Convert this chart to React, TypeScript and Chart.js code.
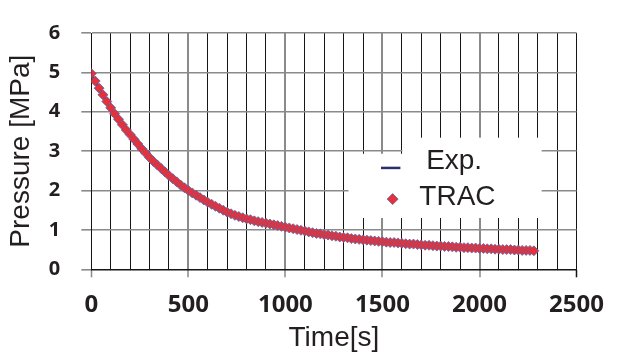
import { useEffect, useRef } from "react";
import { Chart, registerables } from "chart.js";

Chart.register(...registerables);

// ---- data ----
const timeTRAC = [
  0, 20, 40, 60, 80,
  100, 120, 140, 160, 180,
  200, 220, 240, 260, 280,
  300, 320, 340, 360, 380,
  400, 420, 440, 460, 480,
  500, 520, 540, 560, 580,
  600, 620, 640, 660, 680,
  700, 720, 740, 760, 780,
  800, 820, 840, 860, 880,
  900, 920, 940, 960, 980,
  1000, 1020, 1040, 1060, 1080,
  1100, 1120, 1140, 1160, 1180,
  1200, 1220, 1240, 1260, 1280,
  1300, 1320, 1340, 1360, 1380,
  1400, 1420, 1440, 1460, 1480,
  1500, 1520, 1540, 1560, 1580,
  1600, 1620, 1640, 1660, 1680,
  1700, 1720, 1740, 1760, 1780,
  1800, 1820, 1840, 1860, 1880,
  1900, 1920, 1940, 1960, 1980,
  2000, 2020, 2040, 2060, 2080,
  2100, 2120, 2140, 2160, 2180,
  2200, 2220, 2240, 2260, 2280,
];

const pressureTRAC = [
  4.97, 4.78, 4.6, 4.43, 4.26,
  4.1, 3.95, 3.81, 3.67, 3.54,
  3.42, 3.3, 3.18, 3.06, 2.95,
  2.84, 2.74, 2.65, 2.56, 2.47,
  2.38, 2.3, 2.22, 2.14, 2.07,
  2.0, 1.94, 1.88, 1.82, 1.76,
  1.7, 1.65, 1.6, 1.55, 1.5,
  1.45, 1.41, 1.37, 1.34, 1.31,
  1.28, 1.26, 1.23, 1.21, 1.19,
  1.17, 1.15, 1.13, 1.11, 1.09,
  1.07, 1.05, 1.03, 1.01, 0.99,
  0.97, 0.95, 0.93, 0.91, 0.9,
  0.88, 0.87, 0.85, 0.84, 0.82,
  0.81, 0.8, 0.78, 0.77, 0.76,
  0.75, 0.74, 0.73, 0.72, 0.71,
  0.7, 0.69, 0.68, 0.68, 0.67,
  0.66, 0.65, 0.64, 0.64, 0.63,
  0.62, 0.61, 0.61, 0.6, 0.59,
  0.59, 0.58, 0.58, 0.57, 0.56,
  0.56, 0.55, 0.55, 0.54, 0.54,
  0.53, 0.53, 0.52, 0.52, 0.51,
  0.51, 0.5, 0.5, 0.5, 0.49,
  0.49, 0.48, 0.48, 0.48, 0.47,
];

const timeExp = [
  0, 50, 100, 150, 200, 250, 300, 350, 400, 450, 500,
  600, 700, 800, 900, 1000, 1100, 1200, 1300, 1400, 1500,
  1600, 1700, 1800, 1900, 2000, 2100, 2200, 2300,
];

const pressureExp = [
  4.95, 4.5, 4.07, 3.72, 3.39, 3.08, 2.8, 2.57, 2.35, 2.15, 1.97,
  1.67, 1.43, 1.26, 1.15, 1.05, 0.96, 0.87, 0.8, 0.74, 0.69,
  0.65, 0.61, 0.58, 0.55, 0.53, 0.51, 0.49, 0.48,
];

const xLabelTicks = [0, 500, 1000, 1500, 2000, 2500];
const yLabelTicks = [0, 1, 2, 3, 4, 5, 6];
const seriesLabels = ["Exp.", "TRAC"];

// ---- styles ----
const TEXT = "#231f20";
const GREY = "#8a8a8a";
const BLACK = "#151515";
const NAVY = "#2a2f6e";
const RED = "#e8303a";
const DIAMOND_BORDER = "#5566a3";

const insideLegend = {
  id: "insideLegend",
  afterDatasetsDraw(chart: any) {
    const { ctx, chartArea: a } = chart;
    const W = a.right - a.left;
    const H = a.bottom - a.top;
    const px = (f: number) => a.left + f * W;
    const py = (f: number) => a.top + f * H;
    ctx.save();
    ctx.fillStyle = "#ffffff";
    // white legend box
    ctx.fillRect(px(0.53), py(0.511), px(0.928) - px(0.53), py(0.783) - py(0.511));
    ctx.fillRect(px(0.641), py(0.443), px(0.928) - px(0.641), py(0.52) - py(0.443));

    // Exp. line sample
    ctx.strokeStyle = NAVY;
    ctx.lineWidth = 2.5;
    ctx.beginPath();
    ctx.moveTo(px(0.597), py(0.571));
    ctx.lineTo(px(0.637), py(0.571));
    ctx.stroke();

    // TRAC diamond sample
    const dx = px(0.621);
    const dy = py(0.703);
    const r = 5.5;
    ctx.fillStyle = RED;
    ctx.strokeStyle = DIAMOND_BORDER;
    ctx.lineWidth = 0.8;
    ctx.beginPath();
    ctx.moveTo(dx, dy - r);
    ctx.lineTo(dx + r, dy);
    ctx.lineTo(dx, dy + r);
    ctx.lineTo(dx - r, dy);
    ctx.closePath();
    ctx.fill();
    ctx.stroke();

    ctx.fillStyle = TEXT;
    ctx.font = '28px "Liberation Sans", Arial, sans-serif';
    ctx.textBaseline = "middle";
    ctx.textAlign = "left";
    ctx.fillText(seriesLabels[0], px(0.69), py(0.542));
    ctx.fillText(seriesLabels[1], px(0.676), py(0.697));
    ctx.restore();
  },
};

export default function App() {
  const canvasRef = useRef<HTMLCanvasElement | null>(null);

  useEffect(() => {
    const canvas = canvasRef.current;
    if (!canvas) return;

    const tracData = timeTRAC.map((t, i) => ({ x: t, y: pressureTRAC[i] }));
    const expData = timeExp.map((t, i) => ({ x: t, y: pressureExp[i] }));

    const chart = new Chart(canvas, {
      type: "scatter",
      data: {
        datasets: [
          {
            label: seriesLabels[1],
            data: tracData,
            showLine: false,
            pointStyle: "rectRot",
            pointRadius: 5,
            backgroundColor: RED,
            borderColor: DIAMOND_BORDER,
            borderWidth: 0.8,
            order: 0,
          },
          {
            label: seriesLabels[0],
            data: expData,
            showLine: true,
            pointRadius: 0,
            borderColor: NAVY,
            borderWidth: 3,
            cubicInterpolationMode: "monotone",
            order: 1,
          },
        ],
      },
      options: {
        animation: false,
        responsive: true,
        maintainAspectRatio: false,
        events: [],
        layout: { padding: { top: 19.3, right: 31.7, left: 0, bottom: 0 } },
        plugins: {
          legend: { display: false },
          tooltip: { enabled: false },
        },
        scales: {
          x: {
            type: "linear",
            min: 0,
            max: 2500,
            afterFit: (scale: any) => {
              scale.height = 86.7;
            },
            border: { display: true, color: BLACK, width: 1 },
            grid: {
              drawOnChartArea: true,
              drawTicks: true,
              tickLength: 8,
              color: (c: any) => {
                const v = c.tick ? c.tick.value : 0;
                if (v === 0 || v === 2500) return BLACK;
                return v % 500 === 0 ? GREY : BLACK;
              },
              lineWidth: (c: any) => {
                const v = c.tick ? c.tick.value : 0;
                if (v === 0 || v === 2500) return 1;
                return v % 500 === 0 ? 2 : 1;
              },
              tickColor: (c: any) => {
                const v = c.tick ? c.tick.value : 0;
                if (v === 2500) return BLACK;
                return v % 500 === 0 ? GREY : "rgba(0,0,0,0)";
              },
              tickWidth: 1.5,
            },
            ticks: {
              stepSize: 100,
              autoSkip: false,
              maxRotation: 0,
              padding: 13,
              color: TEXT,
              font: { family: '"Open Sans", sans-serif', size: 24, weight: "bold" },
              callback: (v: any) => (xLabelTicks.includes(Number(v)) ? String(v) : ""),
            },
            title: {
              display: true,
              text: "Time[s]",
              color: TEXT,
              font: { family: '"Liberation Sans", Arial, sans-serif', size: 28 },
              padding: { top: 0, bottom: 1.2 },
            },
          },
          y: {
            type: "linear",
            min: 0,
            max: 6,
            afterFit: (scale: any) => {
              scale.width = 91.3;
            },
            border: { display: true, color: BLACK, width: 1 },
            grid: {
              drawOnChartArea: true,
              drawTicks: true,
              tickLength: 10,
              color: (c: any) => (c.tick && c.tick.value === 0 ? BLACK : GREY),
              lineWidth: 1.6,
              tickColor: GREY,
              tickWidth: 1.6,
            },
            ticks: {
              stepSize: 1,
              padding: 21,
              color: TEXT,
              font: { family: '"Open Sans", sans-serif', size: 20, weight: "bold" },
              callback: (v: any) => (yLabelTicks.includes(Number(v)) ? String(v) : ""),
            },
            title: {
              display: true,
              text: "Pressure [MPa]",
              color: TEXT,
              font: { family: '"Liberation Sans", Arial, sans-serif', size: 28 },
              padding: { top: 4, bottom: 0 },
            },
          },
        },
      },
      plugins: [insideLegend],
    } as any);

    return () => chart.destroy();
  }, []);

  return (
    <div style={{ position: "fixed", left: 0, top: 0, width: 617, height: 356, background: "#fff" }}>
      <canvas ref={canvasRef} />
    </div>
  );
}
